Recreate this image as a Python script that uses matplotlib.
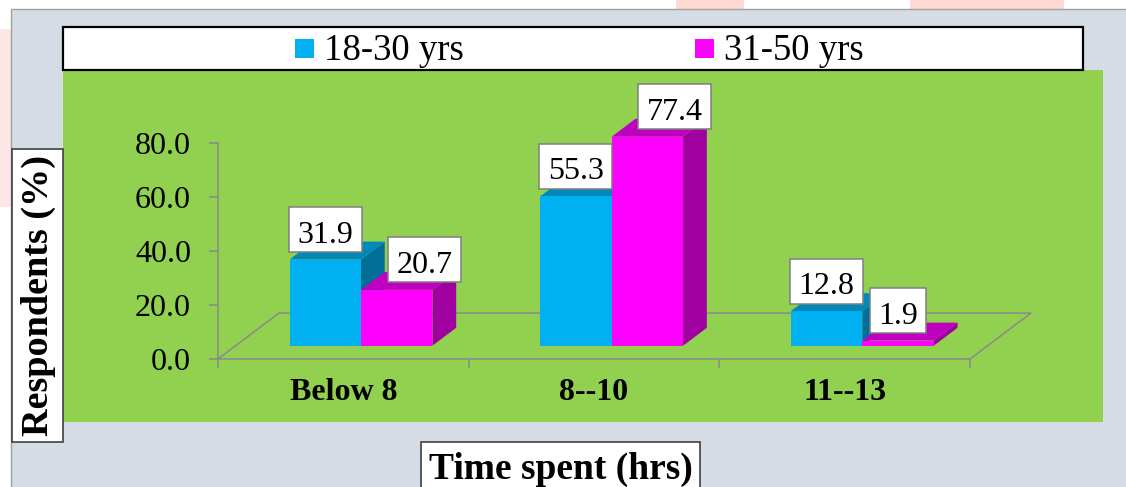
import matplotlib
matplotlib.use("Agg")
import matplotlib.pyplot as plt
from matplotlib.patches import Rectangle, Polygon
from matplotlib.transforms import IdentityTransform

# ---- data -------------------------------------------------------------
categories = ["Below 8", "8--10", "11--13"]
series_names = ["18-30 yrs", "31-50 yrs"]
young = [31.9, 55.3, 12.8]
older = [20.7, 77.4, 1.9]
y_ticks = [0, 20, 40, 60, 80]

# ---- style ------------------------------------------------------------
W, H, DPI = 1126, 487, 100
plt.rcParams["font.family"] = ["Liberation Serif", "DejaVu Serif"]

front_colors = ["#00B0F0", "#FF00FF"]
top_colors = ["#0088BA", "#C000C0"]
side_colors = ["#006E96", "#A000A0"]
grey = "#8A8A8A"

fig = plt.figure(figsize=(W / DPI, H / DPI), dpi=DPI)
fig.patch.set_facecolor("white")


def px_rect(x0, y0, x1, y1, **kw):
    """Rectangle given in pixel coordinates measured from the top-left."""
    r = Rectangle((x0 / W, 1 - y1 / H), (x1 - x0) / W, (y1 - y0) / H,
                  transform=fig.transFigure, **kw)
    fig.add_artist(r)
    return r


def px_text(x, y, s, **kw):
    return fig.text(x / W, 1 - y / H, s, **kw)


# faint watermark shapes around the frame
px_rect(0, 29, 11, 207, fc="#FDE6E6", ec="none", zorder=-10)
px_rect(676, 0, 744, 9, fc="#FDDAD4", ec="none", zorder=-10)
px_rect(910, 0, 1064, 9, fc="#FDDAD4", ec="none", zorder=-10)

# outer panel and green plot area
px_rect(11, 9, 1135, 495, fc="#D6DCE5", ec="#A0A0A0", lw=1.0, zorder=-9)
px_rect(63, 70, 1103, 422, fc="#92D050", ec="none", zorder=-8)

# legend strip
px_rect(63, 27, 1083, 70, fc="white", ec="black", lw=1.6, zorder=-7)
legend_x = [295, 695]
for j, name in enumerate(series_names):
    x0 = legend_x[j]
    px_rect(x0, 39, x0 + 19, 58, fc=front_colors[j], ec="none", zorder=-6)
    px_text(x0 + 29, 60, name, fontsize=26.5, ha="left", va="baseline")

# axis title boxes
px_rect(12, 149, 63, 442, fc="white", ec="#404040", lw=1.2, zorder=1)
px_text(38, 295, "Respondents (%)", rotation=90, ha="center", va="center",
        fontsize=27.5, fontweight="bold", zorder=2)
px_rect(421, 442, 700, 495, fc="white", ec="#404040", lw=1.2, zorder=1)
px_text(561, 479, "Time spent (hrs)", ha="center", va="baseline",
        fontsize=27, fontweight="bold", zorder=2)

# ---- axes -------------------------------------------------------------
ax = fig.add_axes([218 / W, 1 - 359 / H, (970 - 218) / W, (359 - 143) / H])
ax.set_facecolor("none")
ax.set_xlim(0, len(categories))
ax.set_ylim(0, 80)

ax.set_yticks(y_ticks, labels=[f"{v:.1f}" for v in y_ticks])
ax.tick_params(axis="y", length=6.5, width=1.1, color=grey, pad=13,
               labelsize=23, labelcolor="black")
ax.set_xticks(range(len(categories) + 1), labels=[""] * (len(categories) + 1))
ax.set_xticks([i + 0.5 for i in range(len(categories))], labels=categories,
              minor=True, fontweight="bold", fontsize=23)
ax.tick_params(axis="x", which="major", length=6.5, width=1.1, color=grey)
ax.tick_params(axis="x", which="minor", length=0, pad=14)

for side in ("top", "right"):
    ax.spines[side].set_visible(False)
for side in ("left", "bottom"):
    ax.spines[side].set_color(grey)
    ax.spines[side].set_linewidth(1.1)

# receding floor of the 3-D plot (depth in category / value units)
depth_x, depth_y = 0.243, 17.0
n = len(categories)
ax.plot([0, depth_x, n + depth_x, n], [0, depth_y, depth_y, 0],
        color=grey, lw=1.1, clip_on=False, zorder=0.5)

# ---- bars -------------------------------------------------------------
bar_w = 0.285
base_frac, span_frac = 0.29, 0.39
bx, by = span_frac * depth_x, span_frac * depth_y
y0 = base_frac * depth_y

labels = []
for i in range(n):
    row = []
    for j, vals in enumerate([young, older]):
        v = vals[i]
        x = i + (1 - 2 * bar_w) / 2 + j * bar_w + base_frac * depth_x
        side = Polygon([(x + bar_w, y0), (x + bar_w + bx, y0 + by),
                        (x + bar_w + bx, y0 + v + by), (x + bar_w, y0 + v)],
                       closed=True, fc=side_colors[j], ec="none", zorder=1,
                       clip_on=False)
        top = Polygon([(x, y0 + v), (x + bx, y0 + v + by),
                       (x + bar_w + bx, y0 + v + by), (x + bar_w, y0 + v)],
                      closed=True, fc=top_colors[j], ec="none", zorder=1,
                      clip_on=False)
        front = Rectangle((x, y0), bar_w, v, fc=front_colors[j], ec="none",
                          zorder=1, clip_on=False)
        for p in (side, top, front):
            ax.add_patch(p)
        ann = ax.annotate(f"{v:.1f}", xy=(x + bar_w / 2, y0 + v),
                          xytext=(0, 17), textcoords="offset pixels",
                          ha="center", va="baseline", fontsize=23, zorder=4,
                          annotation_clip=False)
        row.append(ann)
    labels.append(row)

# boxed value labels; the second label of a pair moves right if it collides
fig.canvas.draw()
renderer = fig.canvas.get_renderer()
for row in labels:
    prev_right = None
    for ann in row:
        ax_x, ax_y = ax.transData.transform(ann.xy)
        tw = ann.get_window_extent(renderer).width
        bw, bh = tw + 17, 45
        left = ax_x - bw / 2
        shift = 0
        if prev_right is not None and left < prev_right:
            shift = prev_right + 26 - left
            ann.xyann = (shift, 17)
        left += shift
        box = Rectangle((left, ax_y + 30 - bh / 2), bw, bh,
                        transform=IdentityTransform(), fc="white",
                        ec="#7F7F7F", lw=1.1, zorder=3, clip_on=False)
        ax.add_artist(box)
        prev_right = left + bw

fig.savefig("out.png", dpi=DPI)
